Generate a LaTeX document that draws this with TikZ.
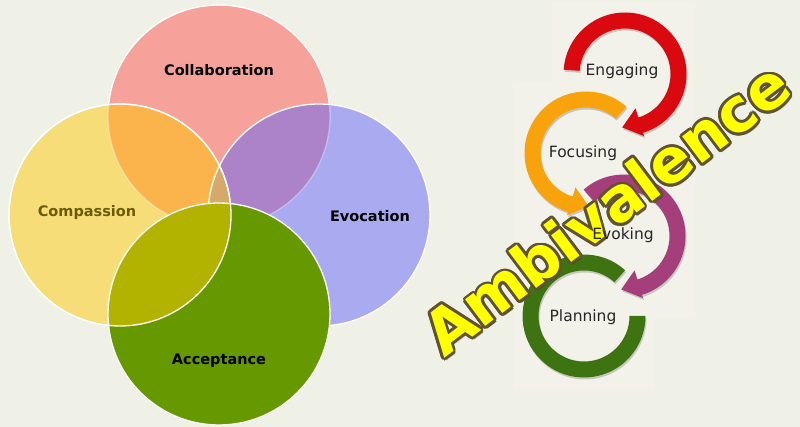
\documentclass[tikz,border=0pt]{standalone}
\usepackage{fontspec}
\setsansfont{DejaVu Sans}
\usetikzlibrary{calc}

\definecolor{paper}{HTML}{EFF0E6}
\definecolor{panel}{HTML}{F2F2EA}
\definecolor{collab}{HTML}{F6A29A}
\definecolor{compas}{HTML}{F6DD78}
\definecolor{evoc}{HTML}{AAAAF0}
\definecolor{accept}{HTML}{669900}
\definecolor{collabcompas}{HTML}{FBB44C}
\definecolor{collabevoc}{HTML}{AC82C9}
\definecolor{core}{HTML}{D6A86A}
\definecolor{compasaccept}{HTML}{B2B300}
\definecolor{compastext}{HTML}{6B5A05}
\definecolor{engage}{HTML}{D9090F}
\definecolor{focus}{HTML}{F8A20C}
\definecolor{evoke}{HTML}{A43F7B}
\definecolor{plan}{HTML}{3E7312}
\definecolor{ambfill}{HTML}{FFFF00}
\definecolor{ambline}{HTML}{5F5232}

\tikzstyle{rim} = [draw=white, line width=1.3pt]
\tikzstyle{venn} = [font=\sffamily\bfseries\fontsize{14.5}{16}\selectfont, inner sep=0]
\tikzstyle{stage} = [font=\sffamily\fontsize{15.5}{17}\selectfont, text=black!85, inner sep=0]
\tikzstyle{amb} = [font=\sffamily\bfseries\fontsize{61}{61}\selectfont, rotate=37, inner sep=0]
\tikzstyle{ring shadow} = [fill=black, opacity=.18]

\def\R{111}
\def\ro{61.5}
\def\ri{45.5}
% ring with an arrow head at its end: centre, start, end, tip angle, colour
\newcommand{\cyclearrow}[5]{%
  \begin{scope}[shift={(#1)}]
    \fill[ring shadow, shift={(1,-2)}] (#2:\ro) arc[start angle=#2, end angle=#3, radius=\ro]
      -- (#3:65) -- (#4:53.5) -- (#3:36) -- (#3:\ri) arc[start angle=#3, end angle=#2, radius=\ri] -- cycle;
    \fill[#5] (#2:\ro) arc[start angle=#2, end angle=#3, radius=\ro]
      -- (#3:65) -- (#4:53.5) -- (#3:36) -- (#3:\ri) arc[start angle=#3, end angle=#2, radius=\ri] -- cycle;
  \end{scope}}
% plain ring with two flat ends
\newcommand{\cycleband}[4]{%
  \begin{scope}[shift={(#1)}]
    \fill[ring shadow, shift={(1,-2)}] (#2:\ro) arc[start angle=#2, end angle=#3, radius=\ro]
      -- (#3:\ri) arc[start angle=#3, end angle=#2, radius=\ri] -- cycle;
    \fill[#4] (#2:\ro) arc[start angle=#2, end angle=#3, radius=\ro]
      -- (#3:\ri) arc[start angle=#3, end angle=#2, radius=\ri] -- cycle;
  \end{scope}}

\begin{document}
\begin{tikzpicture}[x=1pt,y=1pt]

\fill[paper] (0,0) rectangle (800,427);
\useasboundingbox (0,0) rectangle (800,427);
\fill[panel] (552,424) -- (695,424) -- (695,110) -- (655,110) -- (655,36)
  -- (513,36) -- (513,344) -- (552,344) -- cycle;

% spirit of MI
\coordinate (Co) at (219,311);
\coordinate (Cm) at (120,212);
\coordinate (Ev) at (319,212);
\coordinate (Ac) at (219,113);

\fill[collab] (Co) circle[radius=\R];
\draw[rim] (Co) circle[radius=\R];
\fill[compas] (Cm) circle[radius=\R];
\fill[evoc] (Ev) circle[radius=\R];
\begin{scope}
  \clip (Co) circle[radius=\R];
  \fill[collabcompas] (Cm) circle[radius=\R];
  \fill[collabevoc] (Ev) circle[radius=\R];
\end{scope}
\begin{scope}
  \clip (Cm) circle[radius=\R];
  \fill[core] (Ev) circle[radius=\R];
\end{scope}
\draw[rim, draw opacity=.35] (Co) circle[radius=\R];
\draw[rim] (Cm) circle[radius=\R];
\draw[rim] (Ev) circle[radius=\R];

\fill[accept] (Ac) circle[radius=\R];
\begin{scope}
  \clip (Ac) circle[radius=\R];
  \fill[compasaccept] (Cm) circle[radius=\R];
\end{scope}
\draw[rim] (Ac) circle[radius=\R];
\draw[rim] (Cm) circle[radius=\R];

\node[venn] (collab) at (219,357) {Collaboration};
\node[venn, text=compastext] (compas) at (87,214) {Compassion};
\node[venn] (evoc) at (370,211) {Evocation};
\node[venn] (accept) at (219,66) {Acceptance};

% four processes
\coordinate (engc) at (625,353);
\coordinate (focc) at (586,274);
\coordinate (evkc) at (624,191);
\coordinate (plnc) at (584,111);

\cyclearrow{engc}{176}{-73}{-93}{engage}
\cyclearrow{focc}{49}{253}{273}{focus}
\cyclearrow{evkc}{131}{-73}{-93}{evoke}
\cycleband{plnc}{48}{360}{plan}

% outlined title across the cycle
\coordinate (ambc) at (606,219);
\node[amb, text=black, opacity=.2] at ($(ambc)+(2,-3)$) {Ambivalence};
\foreach \a in {0,22.5,...,337.5}
  \node[amb, text=ambline] at ($(ambc)+(\a:2.7)$) {Ambivalence};
\node[amb, text=ambfill] (amb) at (ambc) {Ambivalence};

\node[stage] (eng) at (622,356) {Engaging};
\node[stage] (foc) at (583,274) {Focusing};
\node[stage] (evk) at (623,192) {Evoking};
\node[stage] (pln) at (583,110) {Planning};

\end{tikzpicture}
\end{document}
